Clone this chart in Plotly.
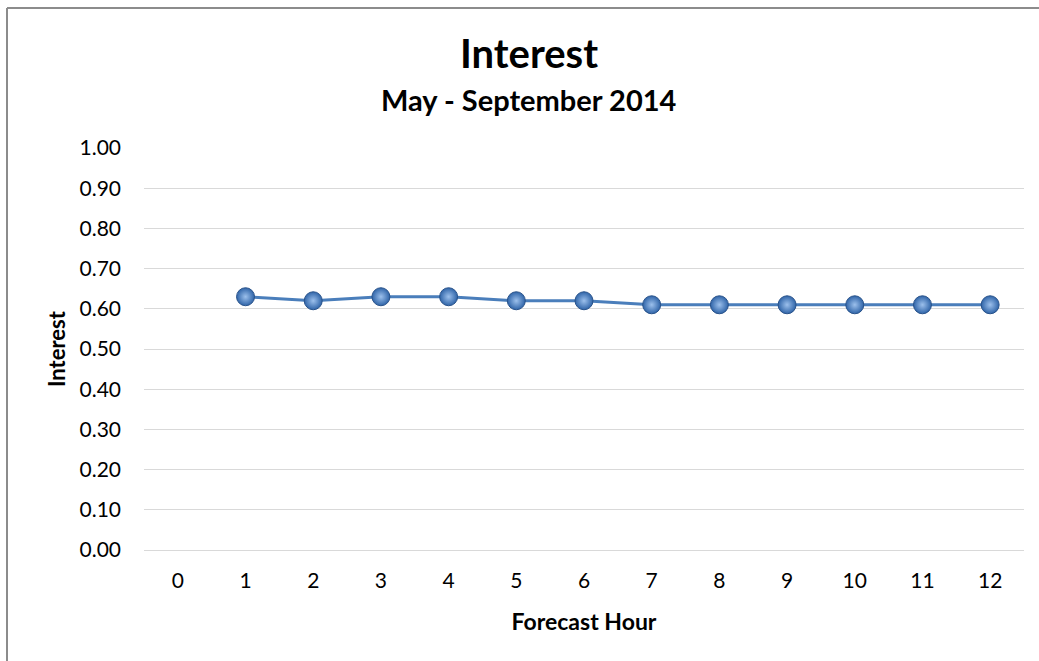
import plotly.graph_objects as go

# Forecast hours and interest values
hours = ["0", "1", "2", "3", "4", "5", "6", "7", "8", "9", "10", "11", "12"]
interest = [None, 0.63, 0.62, 0.63, 0.63, 0.62, 0.62, 0.61, 0.61, 0.61, 0.61, 0.61, 0.61]
y_ticks = [0.0, 0.1, 0.2, 0.3, 0.4, 0.5, 0.6, 0.7, 0.8, 0.9, 1.0]

font_name = "Lato, Calibri, sans-serif"

fig = go.Figure()
fig.add_trace(go.Scatter(
    x=hours, y=interest, mode="lines+markers",
    line=dict(color="#4a7ebb", width=3),
    marker=dict(size=18, color="#2f64a8",
                gradient=dict(type="radial", color="#9cc0ec"),
                line=dict(color="#28528a", width=1)),
    connectgaps=False, showlegend=False,
))

# chart border: only the left and top edges are visible in the crop
border_left = -137 / 880
border_top = 1 + 140 / 402

fig.update_layout(
    width=1039, height=661,
    margin=dict(l=144, r=15, t=148, b=111),
    paper_bgcolor="white", plot_bgcolor="white",
    font=dict(family=font_name, size=21, color="#000000"),
    xaxis=dict(type="category", range=[-0.5, 12.5], showgrid=False,
               showline=True, linecolor="#d9d9d9", linewidth=1,
               ticks="", ticklabelstandoff=12,
               title=dict(text="<b>Forecast Hour</b>", font=dict(size=23), standoff=22)),
    yaxis=dict(range=[0, 1.0], tickvals=y_ticks, tickformat=".2f",
               showgrid=True, gridcolor="#d9d9d9", gridwidth=1,
               zeroline=False, ticks="", ticklabelstandoff=22,
               title=dict(text="<b>Interest</b>", font=dict(size=22), standoff=7)),
    annotations=[
        dict(text="<b>Interest</b>", xref="paper", yref="paper",
             x=0.4375, y=1.0, yshift=95, showarrow=False,
             font=dict(size=40), xanchor="center", yanchor="middle"),
        dict(text="<b>May - September 2014</b>", xref="paper", yref="paper",
             x=0.4375, y=1.0, yshift=49, showarrow=False,
             font=dict(size=29), xanchor="center", yanchor="middle"),
    ],
    shapes=[
        dict(type="line", xref="paper", yref="paper",
             x0=border_left, x1=border_left, y0=-0.4, y1=border_top,
             line=dict(color="#8c8c8c", width=2), layer="below"),
        dict(type="line", xref="paper", yref="paper",
             x0=border_left, x1=1.2, y0=border_top, y1=border_top,
             line=dict(color="#8c8c8c", width=2), layer="below"),
    ],
)

# drop the default body margin so the figure fills the window exactly
fig.write_html(
    "out.html",
    config={"displayModeBar": False},
    post_script="document.body.style.margin='0';document.body.style.overflow='hidden';",
)
